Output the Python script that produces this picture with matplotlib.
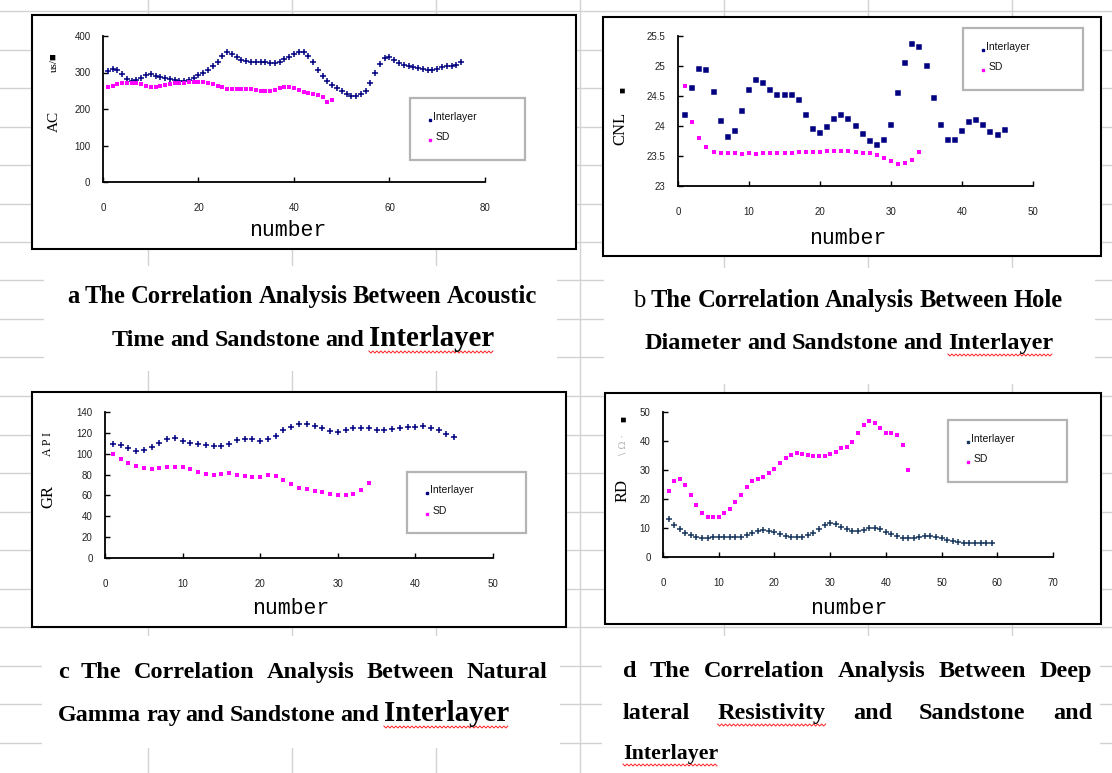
import matplotlib
matplotlib.use('Agg')
import matplotlib.pyplot as plt
from matplotlib.patches import Rectangle
from matplotlib.lines import Line2D
from matplotlib.ticker import FuncFormatter, MultipleLocator
import numpy as np

# values (x = 1, 2, 3, ...)
ac_inter = [305, 310, 308, 295, 282, 278, 280, 285, 292, 295,
            290, 287, 285, 282, 280, 278, 278, 280, 285, 292,
            300, 308, 318, 330, 345, 357, 352, 342, 335, 332,
            330, 330, 330, 328, 326, 326, 330, 336, 343, 350,
            357, 355, 345, 328, 308, 290, 276, 266, 258, 250,
            242, 235, 236, 242, 250, 270, 298, 322, 340, 342,
            335, 326, 320, 318, 316, 313, 310, 307, 307, 310,
            315, 318, 318, 320, 328]
ac_sd = [260, 262, 268, 270, 270, 270, 270, 268, 262, 260,
         260, 262, 265, 268, 270, 272, 272, 274, 274, 275,
         274, 272, 268, 264, 260, 256, 255, 255, 255, 254,
         254, 252, 250, 250, 250, 253, 258, 260, 260, 258,
         252, 247, 244, 240, 237, 232, 220, 225]

cnl_inter = [24.18, 24.63, 24.94, 24.93, 24.57, 24.08, 23.82, 23.92, 24.24, 24.59,
             24.76, 24.72, 24.60, 24.52, 24.52, 24.52, 24.42, 24.18, 23.95, 23.88,
             23.98, 24.11, 24.18, 24.12, 24.00, 23.87, 23.75, 23.68, 23.76, 24.02,
             24.54, 25.04, 25.36, 25.32, 25.00, 24.47, 24.02, 23.77, 23.77, 23.92,
             24.06, 24.10, 24.02, 23.90, 23.85, 23.93]
cnl_sd = [24.66, 24.07, 23.79, 23.64, 23.56, 23.55, 23.55, 23.54, 23.53, 23.54,
          23.53, 23.55, 23.55, 23.55, 23.55, 23.55, 23.56, 23.57, 23.57, 23.57,
          23.58, 23.58, 23.58, 23.58, 23.56, 23.55, 23.55, 23.51, 23.47, 23.41,
          23.36, 23.38, 23.43, 23.57]

gr_inter = [108.8, 108, 105, 102.5, 103, 106.6, 110.4, 113.6, 114.5, 112,
            110.4, 108.8, 108.2, 107.5, 107.5, 108.8, 113, 113.6, 113.6, 112.3,
            114, 116.8, 122.5, 125.7, 127.9, 128, 126.6, 124, 121.5, 120.3,
            122.5, 124, 124.7, 124, 122.5, 122.5, 123.4, 124, 125, 125.3,
            126.3, 124, 122.8, 118.4, 115.5]
gr_sd = [99.3, 94.8, 90.7, 87.8, 86, 85.3, 86, 87.2, 87.5, 87.2,
         85.3, 82.7, 80.5, 79.5, 80.5, 81.1, 79.5, 78.3, 77.3, 77.6,
         79.5, 78.3, 74.8, 70.6, 66.8, 65.9, 64.6, 63.3, 61.4, 60.5,
         60.5, 61.7, 65.2, 71.6]

rd_inter = [13.2, 11, 9.6, 8.4, 7.5, 7, 6.6, 6.5, 6.8, 6.9,
            6.9, 6.8, 6.8, 7, 7.5, 8.2, 9, 9.5, 9, 8.7,
            8, 7.3, 6.9, 6.8, 7, 7.6, 8.5, 9.8, 11.2, 11.8,
            11.3, 10.4, 9.6, 9.2, 9.2, 9.5, 10, 10, 9.6, 8.8,
            7.9, 7.2, 6.7, 6.5, 6.5, 6.9, 7.2, 7.2, 7, 6.5,
            6, 5.6, 5.3, 5, 4.8, 4.8, 4.8, 4.9, 4.9]
rd_sd = [22.9, 26.2, 26.8, 24.8, 21.4, 18, 15.3, 14, 13.7, 14,
         15.1, 16.5, 18.9, 21.4, 24, 26.3, 26.9, 27.7, 28.8, 30.2,
         32.3, 34, 35.1, 35.7, 35.5, 35.1, 34.8, 34.8, 34.9, 35.4,
         36.3, 37.4, 38, 39.5, 42.6, 45.4, 46.9, 46, 44.3, 42.6,
         42.6, 42, 38.6, 30]

W, H = 1112, 773
fig = plt.figure(figsize=(W / 100, H / 100), dpi=100)
fig.patch.set_facecolor('white')


def fx(x):
    return x / W


def fy(y):
    return 1 - y / H


def box(x0, y0, x1, y1, edge='none', lw=1.5, z=0.5):
    fig.add_artist(Rectangle((fx(x0), fy(y1)), (x1 - x0) / W, (y1 - y0) / H,
                             transform=fig.transFigure, facecolor='white',
                             edgecolor=edge, lw=lw, zorder=z))


# spreadsheet cell grid behind everything
for gx in [147.5, 291.5, 435.5, 579.5, 723.5, 867.5, 1011.5]:
    fig.add_artist(Line2D([fx(gx)] * 2, [0, 1], transform=fig.transFigure,
                          color='#d2d2d2', lw=1, zorder=0.1))
for gy in np.arange(11, H, 38.5):
    fig.add_artist(Line2D([0, 1], [fy(gy)] * 2, transform=fig.transFigure,
                          color='#d2d2d2', lw=1, zorder=0.1))

# chart frames and caption boxes
box(32, 15, 576, 249, edge='black')
box(603, 17, 1101, 256, edge='black')
box(32, 392, 566, 627, edge='black')
box(605, 393, 1101, 624, edge='black')
box(44, 266, 557, 371)
box(604, 268, 1095, 384)
box(42, 636, 560, 748)
box(602, 636, 1100, 773)

fmt = FuncFormatter(lambda v, p: f'{v:g}')
navy = '#000080'
pink = '#ff00ff'


def chart(px, xmax, xstep, ylim, ystep, inter, sd, icol, imark):
    left, right, top, bottom = px
    ax = fig.add_axes([fx(left), fy(bottom), (right - left) / W, (bottom - top) / H])
    ax.set_zorder(1)
    ax.patch.set_alpha(0)
    ax.plot(range(1, len(inter) + 1), inter, ls='none', marker=imark,
            ms=4.2 if imark == '+' else 2.8, mew=1.1, color=icol, clip_on=False)
    ax.plot(range(1, len(sd) + 1), sd, ls='none', marker='s', ms=2.9,
            mew=0, color=pink, clip_on=False)
    ax.set_xlim(0, xmax)
    ax.set_ylim(*ylim)
    ax.xaxis.set_major_locator(MultipleLocator(xstep))
    ax.yaxis.set_major_locator(MultipleLocator(ystep))
    ax.yaxis.set_major_formatter(fmt)
    for s in ['top', 'right']:
        ax.spines[s].set_visible(False)
    for s in ['left', 'bottom']:
        ax.spines[s].set_linewidth(1.3)
    ax.tick_params(direction='in', length=3.5, width=1, labelsize=7,
                   labelcolor='#222222', labelfontfamily='Liberation Sans')
    ax.tick_params(axis='x', pad=15)
    ax.tick_params(axis='y', pad=9)
    return ax


chart((103, 485, 36, 182), 80, 20, (0, 400), 100, ac_inter, ac_sd, navy, '+')
chart((678, 1033, 35.7, 185.7), 50, 10, (23, 25.5), 0.5, cnl_inter, cnl_sd, navy, 's')
chart((105, 493, 411.7, 558.3), 50, 10, (0, 140), 20, gr_inter, gr_sd, navy, '+')
chart((663, 1053, 411.7, 557.3), 70, 10, (0, 50), 10, rd_inter, rd_sd, '#17375e', '+')


def legend(x0, y0, x1, y1, icol):
    box(x0, y0, x1, y1, edge='#b4b4b4', lw=1.6, z=2)
    rows = [(icol, 'Interlayer'), (pink, 'SD')]
    dy = (y1 - y0) / 3.0
    for i, (c, lab) in enumerate(rows):
        yy = y0 + dy * (i + 1) - 2
        fig.add_artist(Line2D([fx(x0 + 20)], [fy(yy + 3)], marker='s', ms=1.6,
                              color=c, transform=fig.transFigure, zorder=3))
        fig.text(fx(x0 + 23 + 3 * i), fy(yy), lab, fontsize=7.5,
                 family='Liberation Sans', color='#111111', va='center', zorder=3)


legend(410, 98, 525, 160, navy)
legend(963, 28, 1083, 90, navy)
legend(407, 472, 526, 533, navy)
legend(948, 420, 1067, 482, '#17375e')

# axis titles
serif = 'Liberation Serif'
mono = 'Liberation Mono'
for cx, cy in [(288, 230), (848, 238), (291, 608), (849, 608)]:
    fig.text(fx(cx), fy(cy), 'number', fontsize=15.5, family=mono,
             ha='center', va='center', zorder=3)

ylabs = [(54, 121, 'AC', 11), (54, 62, 'us/\u25a0', 8),
         (620, 128, 'CNL', 12), (622, 90, '\u25a0', 7),
         (48, 497, 'GR', 12), (48, 444, 'A P I', 8.5),
         (623, 490, 'RD', 12), (623, 445, '\\ \u03a9 \u00b7', 7), (623, 419, '\u25a0', 7)]
for lx, ly, s, size in ylabs:
    col = '#b0b0b0' if s.startswith('\\') else 'black'
    fig.text(fx(lx), fy(ly), s, fontsize=size, family=['DejaVu Serif'] if s.startswith('\\') else serif,
             rotation=90, ha='center', va='center', color=col, zorder=3)

# captions (placed word by word like the justified document text)
renderer = fig.canvas.get_renderer()


def wavy(x0, x1, y):
    xs = np.arange(x0, x1 + 0.1, 2.0)
    ys = y + np.where(np.arange(len(xs)) % 2 == 0, 0, 2.0)
    fig.add_artist(Line2D(fx(xs), fy(ys), transform=fig.transFigure,
                          color='#ff2020', lw=0.7, zorder=3))


def caption(words, x0, x1, y, size=17.5, fit=True):
    # words: list of (text, relative size, weight, wavy underline)
    texts = []
    for w, rel, wt, u in words:
        t = fig.text(0, fy(y), w, fontsize=size * rel, fontweight=wt,
                     family=serif, va='baseline', ha='left', zorder=3)
        texts.append(t)
    widths = [t.get_window_extent(renderer).width for t in texts]
    space = 0.22 * size * 100 / 72
    natural = sum(widths) + space * (len(texts) - 1)
    if fit or natural > x1 - x0:
        k = (x1 - x0 - space * (len(texts) - 1)) / sum(widths)
        for t in texts:
            t.set_fontsize(t.get_fontsize() * k)
        widths = [t.get_window_extent(renderer).width for t in texts]
    gap = (x1 - x0 - sum(widths)) / max(len(texts) - 1, 1)
    x = x0
    for t, wd, (w, rel, wt, u) in zip(texts, widths, words):
        t.set_x(fx(x))
        if u:
            wavy(x, x + wd, y + 5)
        x += wd + gap


def plain(line, first='bold'):
    ws = line.split()
    out = [(ws[0], 1.0, first, False)]
    out += [(w, 1.0, 'bold', False) for w in ws[1:]]
    return out


caption(plain('a The Correlation Analysis Between Acoustic'), 67, 537, 303)
caption(plain('Time and Sandstone and') + [('Interlayer', 1.2, 'bold', True)], 112, 494, 346)
caption(plain('b The Correlation Analysis Between Hole', first='normal'), 633, 1063, 307)
caption(plain('Diameter and Sandstone and') + [('Interlayer', 1.0, 'bold', True)], 645, 1053, 349)
caption(plain('c The Correlation Analysis Between Natural'), 58, 547, 678, fit=False)
caption(plain('Gamma ray and Sandstone and') + [('Interlayer', 1.2, 'bold', True)], 58, 509, 721)
caption(plain('d The Correlation Analysis Between Deep'), 623, 1092, 677, fit=False)
caption([('lateral', 1.0, 'bold', False), ('Resistivity', 1.0, 'bold', True),
         ('and', 1.0, 'bold', False), ('Sandstone', 1.0, 'bold', False),
         ('and', 1.0, 'bold', False)], 623, 1092, 719, fit=False)
caption([('Interlayer', 1.0, 'bold', True), ('', 1.0, 'bold', False)], 623, 723, 759, fit=False)

fig.savefig('out.png', dpi=100, facecolor='white')
